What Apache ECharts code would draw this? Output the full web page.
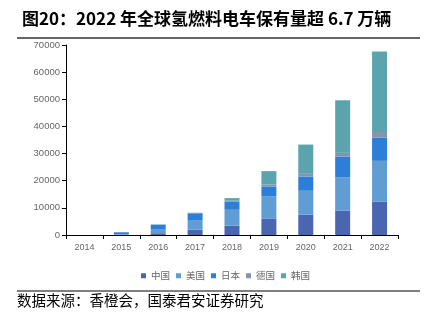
<!DOCTYPE html>
<html><head><meta charset="utf-8">
<script src="https://cdn.jsdelivr.net/npm/echarts@6/dist/echarts.min.js"></script>
<style>html,body{margin:0;padding:0;background:#fff}#c{width:424px;height:321px}</style>
</head><body><div id="c"></div>
<script>
const years = ['2014','2015','2016','2017','2018','2019','2020','2021','2022'];
const seriesNames = ['中国','美国','日本','德国','韩国'];
const china   = [0, 100, 650, 1950, 3420, 6110, 7460, 8930, 12240];
const usa     = [0, 250, 1300, 3560, 5880, 8080, 8830, 12250, 15080];
const japan   = [0, 650, 1730, 2480, 2940, 3680, 5260, 7720, 8560];
const germany = [0, 60, 150, 100, 400, 730, 990, 1360, 2100];
const korea   = [0, 40, 100, 100, 960, 4930, 10770, 19370, 29670];
const yTicks = [0,10000,20000,30000,40000,50000,60000,70000];
const colors = ['#4a66b0','#5f9dd4','#2b7fd8','#8493ae','#5ba4ae'];
const titleText = '图20：2022 年全球氢燃料电车保有量超 6.7 万辆';
const sourceText = '数据来源：香橙会，国泰君安证券研究';

const data = [china, usa, japan, germany, korea];
const chart = echarts.init(document.getElementById('c'));
chart.setOption({
  animation: false,
  color: colors,
  title: {text: titleText, left: 17, top: 5,
    textStyle: {fontFamily: 'Noto Sans CJK SC', fontSize: 17, fontWeight: 'bold', color: '#000'}},
  graphic: [
    {type: 'line', shape: {x1: 17, y1: 38, x2: 420, y2: 38}, style: {stroke: '#333', lineWidth: 1.5}},
    {type: 'line', shape: {x1: 17, y1: 291, x2: 420, y2: 291}, style: {stroke: '#000', lineWidth: 1}},
    {type: 'text', left: 17, top: 293, style: {text: sourceText, font: '14.5px "Noto Sans CJK SC"', fill: '#000'}}
  ],
  legend: {top: 266, left: 136, itemWidth: 5, itemHeight: 5, itemGap: 6,
    icon: 'rect', textStyle: {fontSize: 9.5, color: '#666', fontFamily: 'Noto Sans CJK SC'},
    data: seriesNames},
  grid: {left: 66, right: 26, top: 45, bottom: 86},
  xAxis: {type: 'category', data: years, boundaryGap: true,
    axisLine: {lineStyle: {color: '#000'}},
    axisTick: {show: true, length: 4, lineStyle: {color: '#000'}},
    axisLabel: {color: '#666', fontSize: 9, margin: 8, fontFamily: 'Liberation Sans'}},
  yAxis: {type: 'value', min: 0, max: 70000, interval: 10000,
    axisLine: {show: true, lineStyle: {color: '#000'}},
    axisTick: {show: true, inside: false, length: 4, lineStyle: {color: '#000'}},
    splitLine: {show: false},
    axisLabel: {color: '#666', fontSize: 9.5, margin: 6, fontFamily: 'Liberation Sans',
      formatter: v => yTicks.includes(v) ? String(v) : ''}},
  series: seriesNames.map((n, i) => ({
    name: n, type: 'bar', stack: 'total', barWidth: 15, data: data[i],
    itemStyle: {color: colors[i]}
  }))
});
</script></body></html>
